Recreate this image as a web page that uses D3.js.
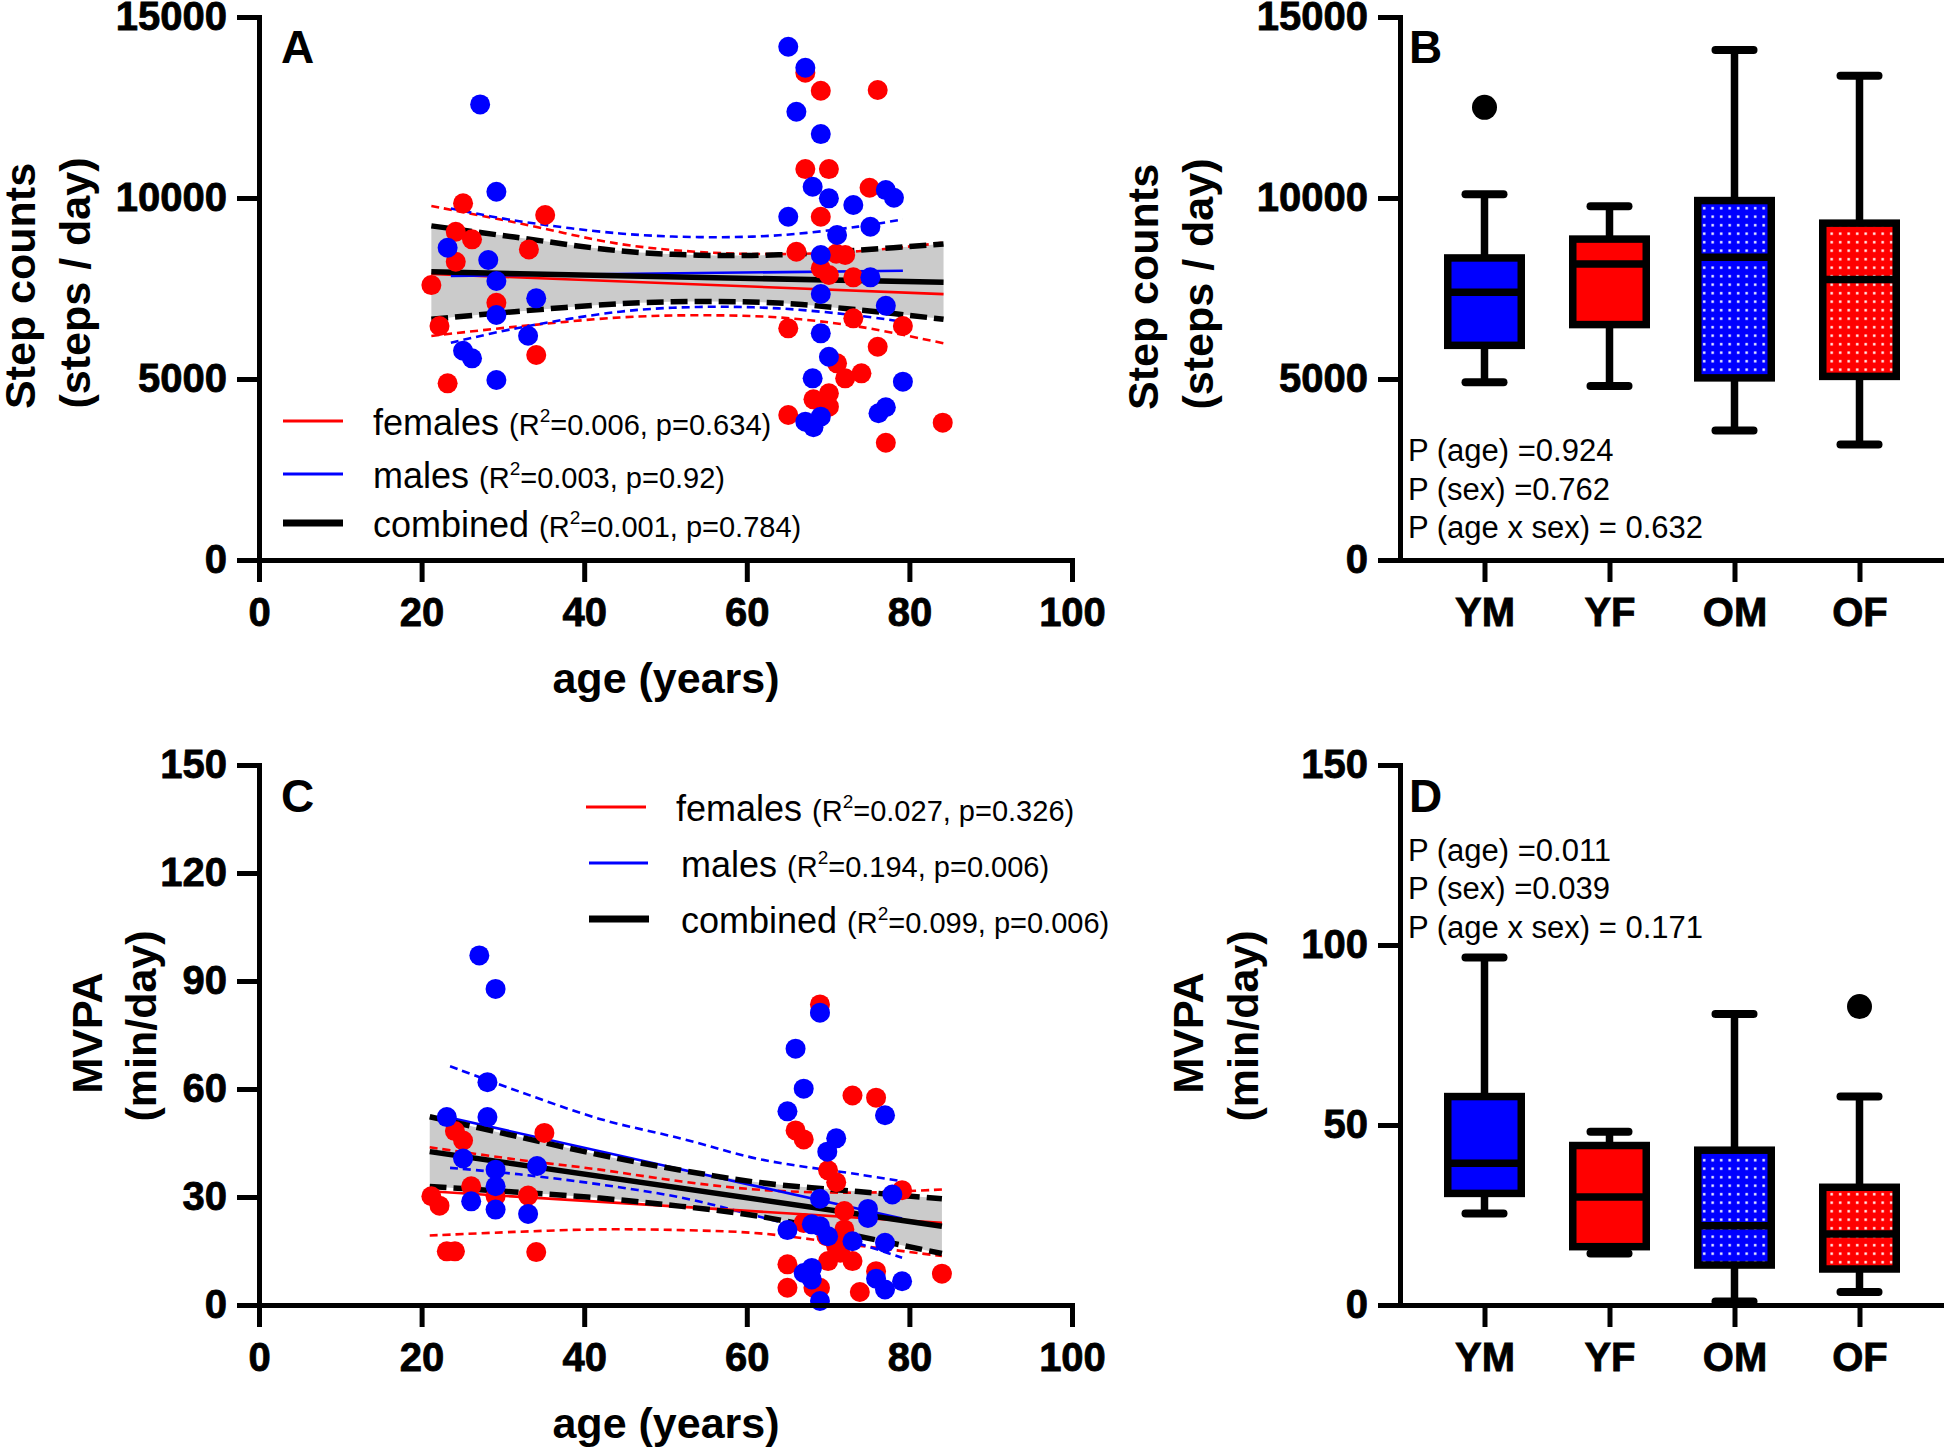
<!DOCTYPE html>
<html>
<head>
<meta charset="utf-8">
<script src="https://cdn.jsdelivr.net/npm/d3@7"></script>
<style>
  body { margin: 0; background: #fff; }
  text { font-family: "Liberation Sans", Arial, sans-serif; fill: #000; }
</style>
</head>
<body>
<svg width="1944" height="1450"></svg>
<script>
// ---- data ----
const groups = ["YM", "YF", "OM", "OF"];

// panel A: age vs step counts
const femaleSteps = [
  [67.2, 13460], [69.1, 12962], [76.1, 12982], [67.2, 10799], [70.1, 10799], [75.1, 10283],
  [69.1, 9482], [66.1, 8515], [71.0, 8460], [72.1, 8424], [69.1, 8056], [70.1, 7872],
  [73.1, 7808], [65.1, 6399], [73.1, 6675], [79.2, 6463], [76.1, 5892], [71.1, 5432],
  [72.1, 5019], [74.1, 5157], [70.1, 4604], [68.2, 4438], [70.1, 4236], [65.1, 4006],
  [84.1, 3793], [77.1, 3240],
  [25.1, 9853], [35.2, 9529], [24.2, 9068], [26.2, 8858], [33.2, 8580], [24.2, 8238],
  [21.2, 7595], [29.2, 7107], [22.2, 6463], [34.1, 5662], [23.2, 4880]
];
const maleSteps = [
  [65.1, 14177], [67.2, 13598], [66.1, 12382], [69.1, 11766], [68.1, 10311], [70.1, 9991],
  [73.1, 9806], [77.1, 10219], [78.1, 10007], [65.1, 9482], [75.2, 9206], [71.1, 8977],
  [69.1, 8424], [75.2, 7808], [69.1, 7347], [77.1, 7024], [69.1, 6261], [70.1, 5616],
  [68.1, 5019], [79.2, 4927], [77.1, 4220], [76.2, 4054], [69.1, 3960], [67.2, 3822], [68.2, 3667],
  [27.2, 12586], [29.2, 10172], [23.2, 8626], [28.2, 8286], [29.2, 7706], [34.1, 7228],
  [29.2, 6767], [33.1, 6195], [25.1, 5780], [26.2, 5571], [29.2, 4972]
];
const stepsFitAll = [[21.2, 7960], [84.2, 7670]];
const stepsFitFemale = [[21.2, 7900], [84.2, 7345]];
const stepsFitMale = [[23.6, 7850], [79.2, 7990]];
const stepsCiAges = [21.2, 31.4, 44.4, 54.1, 63.9, 73.7, 84.2];
const stepsAllUpper = [9230, 8920, 8540, 8420, 8430, 8560, 8730];
const stepsAllLower = [6650, 6860, 7080, 7140, 7100, 6910, 6650];
const stepsFemUpper = [9780, 9330, 8730, 8510, 8450, 8530, 8765];
const stepsFemLower = [6190, 6440, 6700, 6760, 6700, 6450, 5985];
const stepsMaleCiAges = [23.6, 31.4, 44.4, 54.1, 63.9, 73.7, 79.2];
const stepsMaleUpper = [9710, 9380, 9020, 8920, 8970, 9210, 9410];
const stepsMaleLower = [6000, 6390, 6860, 6990, 6950, 6750, 6580];

// panel C: age vs MVPA
const femaleMvpa = [
  [69.0, 83.5], [73.0, 58.2], [75.9, 57.6], [66.0, 48.5], [67.0, 46.0], [70.0, 37.4],
  [71.0, 34.1], [79.1, 31.9], [72.0, 26.1], [67.0, 22.8], [72.0, 21.0], [69.8, 19.1],
  [71.0, 16.3], [71.5, 14.5], [70.0, 12.2], [73.0, 12.2], [65.0, 11.3], [65.0, 4.8],
  [68.2, 4.8], [69.0, 4.8], [73.9, 3.6], [75.9, 9.4], [84.0, 8.7],
  [24.1, 48.3], [25.1, 45.7], [35.1, 47.8], [26.1, 33.0], [21.2, 30.2], [22.2, 27.6],
  [29.1, 30.2], [33.1, 30.4], [23.1, 14.9], [24.1, 14.9], [34.1, 14.7]
];
const maleMvpa = [
  [27.1, 97.1], [29.1, 87.8], [28.1, 61.9], [23.1, 52.2], [28.1, 52.2], [25.1, 40.7],
  [34.2, 38.6], [29.1, 37.6], [29.1, 33.0], [26.1, 28.8], [29.1, 26.5], [33.1, 25.3],
  [69.0, 81.2], [66.0, 71.2], [67.0, 60.1], [65.0, 53.8], [77.0, 52.7], [71.0, 46.3],
  [69.9, 42.6], [69.0, 29.5], [77.9, 30.7], [74.9, 26.7], [74.9, 24.2], [65.0, 20.8],
  [68.0, 22.4], [69.0, 21.9], [70.0, 19.1], [73.0, 17.7], [77.0, 17.3], [68.0, 10.3],
  [67.0, 8.9], [68.0, 7.1], [75.9, 7.3], [77.0, 4.3], [79.1, 6.6], [69.0, 1.1]
];
const mvpaFitAll = [[21.0, 42.6], [84.0, 21.9]];
const mvpaFitFemale = [[21.0, 31.6], [84.0, 22.8]];
const mvpaFitMale = [[23.1, 52.2], [79.1, 24.0]];
const mvpaCiAges = [21.0, 31.4, 41.9, 52.0, 61.6, 73.7, 84.0];
const mvpaAllUpper = [52.3, 47.0, 41.7, 37.4, 34.0, 31.5, 29.5];
const mvpaAllLower = [32.9, 31.4, 29.7, 27.4, 24.6, 19.1, 14.3];
const mvpaFemUpper = [43.8, 40.5, 37.6, 34.3, 32.0, 31.2, 32.1];
const mvpaFemLower = [19.3, 20.3, 21.0, 20.8, 19.9, 16.5, 13.6];
const mvpaMaleCiAges = [23.5, 32.0, 41.9, 52.0, 61.6, 73.7, 79.1];
const mvpaMaleUpper = [66.3, 59.3, 51.7, 46.2, 40.5, 36.3, 34.4];
const mvpaMaleLower = [38.1, 36.3, 33.5, 29.8, 24.5, 17.1, 13.1];

// box plots: [min, q1, median, q3, max]
const stepsBox = [
  [4908, 5930, 7393, 8344, 10102],
  [4806, 6503, 8180, 8865, 9775],
  [3579, 5031, 8364, 9929, 14090],
  [3190, 5072, 7751, 9305, 13374]
];
const stepsOutliers = [["YM", 12505]];
const mvpaBox = [
  [25.4, 31.0, 39.4, 57.9, 96.5],
  [14.3, 16.2, 30.0, 44.3, 48.1],
  [1.0, 11.1, 22.0, 43.0, 80.8],
  [3.6, 10.0, 19.7, 32.7, 57.9]
];
const mvpaOutliers = [["OF", 82.9]];

// legend + stats text
const legendNames = ["females", "males", "combined"];
const stepsR2 = ["0.006", "0.003", "0.001"];
const stepsP = ["0.634", "0.92", "0.784"];
const mvpaR2 = ["0.027", "0.194", "0.099"];
const mvpaP = ["0.326", "0.006", "0.006"];
const stepsAnova = ["P (age) =0.924", "P (sex) =0.762", "P (age x sex) = 0.632"];
const mvpaAnova = ["P (age) =0.011", "P (sex) =0.039", "P (age x sex) = 0.171"];

const RED = "#ff0000", BLUE = "#0000ff";

var svg = d3.select("svg");

// pattern for the older groups
var defs = svg.append("defs");
[["dotsBlue", BLUE], ["dotsRed", RED]].forEach(function (p) {
  var pat = defs.append("pattern").attr("id", p[0])
    .attr("patternUnits", "userSpaceOnUse").attr("width", 8.5).attr("height", 8.5);
  pat.append("rect").attr("width", 8.5).attr("height", 8.5).attr("fill", p[1]);
  pat.append("rect").attr("x", 3).attr("y", 3).attr("width", 2.4).attr("height", 2.4).attr("fill", "#fff");
});
const boxFill = ["#0000ff", "#ff0000", "url(#dotsBlue)", "url(#dotsRed)"];

function styleAxis(g, fs) {
  g.attr("font-family", null).attr("font-size", null);
  g.select(".domain").attr("stroke", "#000").attr("stroke-width", 5).attr("stroke-linecap", "square");
  g.selectAll(".tick line").attr("stroke", "#000").attr("stroke-width", 5);
  g.selectAll(".tick text").attr("font-size", fs || 40).attr("font-weight", "bold")
    .attr("stroke", "#000").attr("stroke-width", 0.8);
}

function yTitle(lines, xs, cy) {
  lines.forEach(function (t, i) {
    svg.append("text")
      .attr("transform", "translate(" + xs[i] + "," + cy[i] + ") rotate(-90)")
      .attr("text-anchor", "middle").attr("font-size", 43).attr("font-weight", "bold")
      .text(t);
  });
}

function panelLetter(t, x, y) {
  svg.append("text").attr("x", x).attr("y", y).attr("font-size", 46)
    .attr("font-weight", "bold").text(t);
}

// ---------- scatter panels ----------
function scatterPanel(o) {
  var x = d3.scaleLinear().domain([0, 100]).range([259, 1072]);
  var y = d3.scaleLinear().domain(o.yDomain).range([o.bottom, o.top]);
  var g = svg.append("g");

  var area = d3.area().curve(d3.curveCatmullRom)
    .x(d => x(d[0])).y0(d => y(d[1])).y1(d => y(d[2]));
  var line = d3.line().curve(d3.curveCatmullRom).x(d => x(d[0])).y(d => y(d[1]));

  g.append("path")
    .datum(o.ciAges.map((a, i) => [a, o.allLower[i], o.allUpper[i]]))
    .attr("fill", "#cbcbcb").attr("d", area);

  // sex-specific bands (thin dashed) and fits
  [[o.ciAges, o.femUpper, o.femLower, RED], [o.maleAges, o.maleUpper, o.maleLower, BLUE]].forEach(function (s) {
    [s[1], s[2]].forEach(function (vals) {
      g.append("path").datum(s[0].map((a, i) => [a, vals[i]]))
        .attr("fill", "none").attr("stroke", s[3]).attr("stroke-width", 2.6)
        .attr("stroke-dasharray", "8,5").attr("d", line);
    });
  });
  g.append("path").datum(o.fitFemale).attr("fill", "none").attr("stroke", RED)
    .attr("stroke-width", 2.6).attr("d", line);
  g.append("path").datum(o.fitMale).attr("fill", "none").attr("stroke", BLUE)
    .attr("stroke-width", 2.6).attr("d", line);

  // combined fit + band edges
  [o.allUpper, o.allLower].forEach(function (vals) {
    g.append("path").datum(o.ciAges.map((a, i) => [a, vals[i]]))
      .attr("fill", "none").attr("stroke", "#000").attr("stroke-width", 5.5)
      .attr("stroke-dasharray", "17,7").attr("d", line);
  });
  g.append("path").datum(o.fitAll).attr("fill", "none").attr("stroke", "#000")
    .attr("stroke-width", 5.5).attr("d", line);

  // points
  g.selectAll("circle.f").data(o.females).enter().append("circle")
    .attr("cx", d => x(d[0])).attr("cy", d => y(d[1])).attr("r", 10).attr("fill", RED);
  g.selectAll("circle.m").data(o.males).enter().append("circle")
    .attr("cx", d => x(d[0])).attr("cy", d => y(d[1])).attr("r", 10).attr("fill", BLUE);

  // axes
  svg.append("g").attr("transform", "translate(0," + o.bottom + ")")
    .call(d3.axisBottom(x).tickValues([0, 20, 40, 60, 80, 100]).tickSize(22).tickPadding(16).tickSizeOuter(0))
    .call(styleAxis);
  svg.append("g").attr("transform", "translate(259,0)")
    .call(d3.axisLeft(y).tickValues(o.yTicks).tickFormat(d3.format("d")).tickSize(22).tickPadding(10).tickSizeOuter(0))
    .call(styleAxis);

  svg.append("text").attr("x", 666).attr("y", o.bottom + 133).attr("text-anchor", "middle")
    .attr("font-size", 43).attr("font-weight", "bold").text("age (years)");

  // legend
  var colors = [RED, BLUE, "#000"], widths = [3, 3, 7];
  legendNames.forEach(function (n, i) {
    var ly = o.legY[i];
    svg.append("line").attr("x1", o.legX[i][0]).attr("x2", o.legX[i][1])
      .attr("y1", ly).attr("y2", ly).attr("stroke", colors[i]).attr("stroke-width", widths[i]);
    var t = svg.append("text").attr("x", o.legX[i][2]).attr("y", ly + 14).attr("font-size", 36);
    t.append("tspan").text(n + " ");
    t.append("tspan").attr("font-size", 29).text("(R");
    t.append("tspan").attr("font-size", 19).attr("dy", -13).text("2");
    t.append("tspan").attr("font-size", 29).attr("dy", 13).text("=" + o.r2[i] + ", p=" + o.p[i] + ")");
  });
}

scatterPanel({
  top: 17, bottom: 560, yDomain: [0, 15000], yTicks: [0, 5000, 10000, 15000],
  females: femaleSteps, males: maleSteps,
  fitAll: stepsFitAll, fitFemale: stepsFitFemale, fitMale: stepsFitMale,
  ciAges: stepsCiAges, allUpper: stepsAllUpper, allLower: stepsAllLower,
  femUpper: stepsFemUpper, femLower: stepsFemLower,
  maleAges: stepsMaleCiAges, maleUpper: stepsMaleUpper, maleLower: stepsMaleLower,
  legY: [421, 474, 523], legX: [[283, 343, 373], [283, 343, 373], [283, 343, 373]],
  r2: stepsR2, p: stepsP
});

scatterPanel({
  top: 765, bottom: 1305, yDomain: [0, 150], yTicks: [0, 30, 60, 90, 120, 150],
  females: femaleMvpa, males: maleMvpa,
  fitAll: mvpaFitAll, fitFemale: mvpaFitFemale, fitMale: mvpaFitMale,
  ciAges: mvpaCiAges, allUpper: mvpaAllUpper, allLower: mvpaAllLower,
  femUpper: mvpaFemUpper, femLower: mvpaFemLower,
  maleAges: mvpaMaleCiAges, maleUpper: mvpaMaleUpper, maleLower: mvpaMaleLower,
  legY: [807, 863, 919], legX: [[586, 646, 676], [589, 648, 681], [589, 649, 681]],
  r2: mvpaR2, p: mvpaP
});

// ---------- box plot panels ----------
function boxPanel(o) {
  var x = d3.scalePoint().domain(groups).range([1400, 1944]).padding(0.676);
  var y = d3.scaleLinear().domain(o.yDomain).range([o.bottom, o.top]);
  var g = svg.append("g");
  var bw = 73.5, cap = 46;

  o.stats.forEach(function (s, i) {
    var cx = x(groups[i]);
    // whiskers
    g.append("line").attr("x1", cx).attr("x2", cx).attr("y1", y(s[0])).attr("y2", y(s[1]))
      .attr("stroke", "#000").attr("stroke-width", 7.5);
    g.append("line").attr("x1", cx).attr("x2", cx).attr("y1", y(s[3])).attr("y2", y(s[4]))
      .attr("stroke", "#000").attr("stroke-width", 7.5);
    [s[0], s[4]].forEach(function (v) {
      g.append("line").attr("x1", cx - cap / 2 + 4).attr("x2", cx + cap / 2 - 4)
        .attr("y1", y(v)).attr("y2", y(v))
        .attr("stroke", "#000").attr("stroke-width", 8).attr("stroke-linecap", "round");
    });
    g.append("rect").attr("x", cx - bw / 2).attr("width", bw)
      .attr("y", y(s[3])).attr("height", y(s[1]) - y(s[3]))
      .attr("fill", boxFill[i]).attr("stroke", "#000").attr("stroke-width", 7.5);
    g.append("line").attr("x1", cx - bw / 2).attr("x2", cx + bw / 2)
      .attr("y1", y(s[2])).attr("y2", y(s[2])).attr("stroke", "#000").attr("stroke-width", 7.5);
  });
  o.outliers.forEach(function (d) {
    g.append("circle").attr("cx", x(d[0])).attr("cy", y(d[1])).attr("r", 12.5).attr("fill", "#000");
  });

  svg.append("g").attr("transform", "translate(0," + o.bottom + ")")
    .call(d3.axisBottom(x).tickSize(22).tickPadding(16).tickSizeOuter(0))
    .call(styleAxis);
  svg.append("g").attr("transform", "translate(1400,0)")
    .call(d3.axisLeft(y).tickValues(o.yTicks).tickFormat(d3.format("d")).tickSize(22).tickPadding(10).tickSizeOuter(0))
    .call(styleAxis);

  o.anova.forEach(function (t, i) {
    svg.append("text").attr("x", 1408).attr("y", o.anovaY[i]).attr("font-size", 31).text(t);
  });
}

boxPanel({
  top: 17, bottom: 560, yDomain: [0, 15000], yTicks: [0, 5000, 10000, 15000],
  stats: stepsBox, outliers: stepsOutliers, anova: stepsAnova, anovaY: [461, 500, 538]
});
boxPanel({
  top: 765, bottom: 1305, yDomain: [0, 150], yTicks: [0, 50, 100, 150],
  stats: mvpaBox, outliers: mvpaOutliers, anova: mvpaAnova, anovaY: [861, 899, 938]
});

// titles and panel letters
yTitle(["Step counts", "(steps / day)"], [35, 90], [286, 283]);
yTitle(["Step counts", "(steps / day)"], [1158, 1213], [287, 284]);
yTitle(["MVPA", "(min/day)"], [102, 156], [1033, 1026]);
yTitle(["MVPA", "(min/day)"], [1203, 1258], [1033, 1026]);

panelLetter("A", 281, 63);
panelLetter("B", 1409, 63);
panelLetter("C", 281, 812);
panelLetter("D", 1409, 812);
</script>
</body>
</html>
